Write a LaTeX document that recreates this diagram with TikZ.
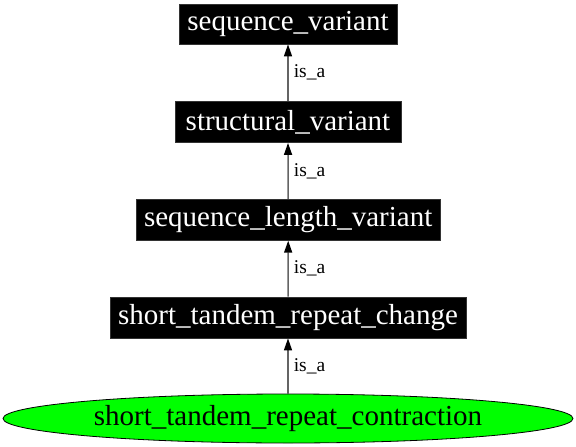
\documentclass[tikz,border=0pt]{standalone}
\usepackage{fontspec}
\setmainfont{Liberation Serif}
\usetikzlibrary{arrows.meta,shapes.geometric}
\definecolor{edgegray}{RGB}{100,100,100}
\definecolor{nodegreen}{RGB}{0,255,0}
\tikzset{
  termbox/.style={rectangle, fill=black, draw=black!80!white, line width=0.8pt, text=white,
    font=\fontsize{29}{32}\selectfont, inner sep=0pt},
  leaf/.style={ellipse, fill=nodegreen, draw=black, line width=0.8pt, text=black,
    font=\fontsize{29}{32}\selectfont, inner sep=0pt},
  isa/.style={draw=edgegray, line width=1.5pt,
    -{Triangle[length=12pt,width=8pt,color=black]}},
  elabel/.style={font=\fontsize{19.5}{22}\selectfont, anchor=west, inner sep=0pt, xshift=5pt}
}
\begin{document}
\begin{tikzpicture}[x=1pt,y=1pt]
\useasboundingbox (0,0) rectangle (576,-447);
\node[termbox, minimum width=218pt, minimum height=40pt] (sv) at (288,-24) {sequence\_variant};
\node[termbox, minimum width=226pt, minimum height=41pt] (stv) at (288,-122) {structural\_variant};
\node[termbox, minimum width=304pt, minimum height=41pt] (slv) at (288.2,-219.8) {sequence\_length\_variant};
\node[termbox, minimum width=356pt, minimum height=41pt] (strc) at (288,-317.5) {short\_tandem\_repeat\_change};
\node[leaf, minimum width=570pt, minimum height=49pt] (strx) at (288,-418.5) {short\_tandem\_repeat\_contraction};
\draw[isa] (stv.north) -- node[elabel] {is\_a} (sv.south);
\draw[isa] (slv.north) -- node[elabel] {is\_a} (stv.south);
\draw[isa] (strc.north) -- node[elabel] {is\_a} (slv.south);
\draw[isa] (strx.north) -- node[elabel] {is\_a} (strc.south);
\end{tikzpicture}
\end{document}
